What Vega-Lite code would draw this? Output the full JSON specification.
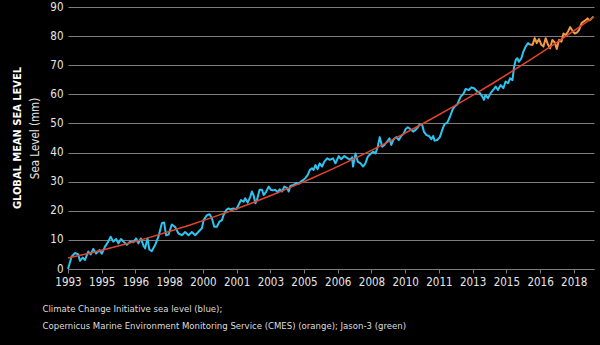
{
  "$schema": "https://vega.github.io/schema/vega-lite/v6.json",
  "width": 526,
  "height": 262,
  "autosize": "none",
  "padding": {"left": 68, "top": 7, "right": 6, "bottom": 76},
  "background": "black",
  "title": {
    "text": "GLOBAL MEAN SEA LEVEL",
    "orient": "left",
    "anchor": "middle",
    "font": "DejaVu Sans Condensed, sans-serif",
    "fontSize": 11,
    "fontWeight": "bold",
    "color": "white",
    "offset": 7
  },
  "config": {
    "view": {"stroke": null},
    "font": "DejaVu Sans Condensed, sans-serif",
    "axis": {
      "labelFont": "DejaVu Sans Condensed, sans-serif",
      "titleFont": "DejaVu Sans Condensed, sans-serif",
      "labelColor": "#e6e6e6",
      "titleColor": "#e6e6e6",
      "gridColor": "#7d7d7d",
      "gridWidth": 1.2,
      "domainColor": "#7d7d7d",
      "tickColor": "#7d7d7d"
    }
  },
  "data": {
    "values": [
      {"year": 1993.00, "value": 0.0, "series": "CCI"},
      {"year": 1993.18, "value": 4.3, "series": "CCI"},
      {"year": 1993.35, "value": 5.5, "series": "CCI"},
      {"year": 1993.51, "value": 5.0, "series": "CCI"},
      {"year": 1993.59, "value": 2.8, "series": "CCI"},
      {"year": 1993.73, "value": 3.9, "series": "CCI"},
      {"year": 1993.84, "value": 3.1, "series": "CCI"},
      {"year": 1994.00, "value": 6.0, "series": "CCI"},
      {"year": 1994.12, "value": 5.0, "series": "CCI"},
      {"year": 1994.25, "value": 6.9, "series": "CCI"},
      {"year": 1994.39, "value": 5.3, "series": "CCI"},
      {"year": 1994.55, "value": 6.5, "series": "CCI"},
      {"year": 1994.67, "value": 5.3, "series": "CCI"},
      {"year": 1994.83, "value": 7.7, "series": "CCI"},
      {"year": 1994.99, "value": 9.4, "series": "CCI"},
      {"year": 1995.11, "value": 11.1, "series": "CCI"},
      {"year": 1995.24, "value": 9.4, "series": "CCI"},
      {"year": 1995.38, "value": 10.3, "series": "CCI"},
      {"year": 1995.49, "value": 8.8, "series": "CCI"},
      {"year": 1995.62, "value": 10.3, "series": "CCI"},
      {"year": 1995.74, "value": 9.4, "series": "CCI"},
      {"year": 1995.91, "value": 8.3, "series": "CCI"},
      {"year": 1996.07, "value": 9.4, "series": "CCI"},
      {"year": 1996.23, "value": 9.2, "series": "CCI"},
      {"year": 1996.37, "value": 10.5, "series": "CCI"},
      {"year": 1996.48, "value": 8.8, "series": "CCI"},
      {"year": 1996.60, "value": 10.5, "series": "CCI"},
      {"year": 1996.73, "value": 8.0, "series": "CCI"},
      {"year": 1996.81, "value": 7.1, "series": "CCI"},
      {"year": 1996.93, "value": 10.5, "series": "CCI"},
      {"year": 1997.02, "value": 6.7, "series": "CCI"},
      {"year": 1997.14, "value": 6.1, "series": "CCI"},
      {"year": 1997.31, "value": 8.3, "series": "CCI"},
      {"year": 1997.47, "value": 11.1, "series": "CCI"},
      {"year": 1997.64, "value": 15.7, "series": "CCI"},
      {"year": 1997.75, "value": 16.0, "series": "CCI"},
      {"year": 1997.85, "value": 11.6, "series": "CCI"},
      {"year": 1997.97, "value": 11.8, "series": "CCI"},
      {"year": 1998.13, "value": 15.3, "series": "CCI"},
      {"year": 1998.30, "value": 14.4, "series": "CCI"},
      {"year": 1998.46, "value": 12.2, "series": "CCI"},
      {"year": 1998.63, "value": 11.6, "series": "CCI"},
      {"year": 1998.79, "value": 12.7, "series": "CCI"},
      {"year": 1998.96, "value": 11.6, "series": "CCI"},
      {"year": 1999.12, "value": 12.7, "series": "CCI"},
      {"year": 1999.29, "value": 11.6, "series": "CCI"},
      {"year": 1999.45, "value": 12.8, "series": "CCI"},
      {"year": 1999.62, "value": 14.0, "series": "CCI"},
      {"year": 1999.70, "value": 16.8, "series": "CCI"},
      {"year": 1999.87, "value": 18.5, "series": "CCI"},
      {"year": 2000.00, "value": 18.8, "series": "CCI"},
      {"year": 2000.11, "value": 17.4, "series": "CCI"},
      {"year": 2000.23, "value": 14.5, "series": "CCI"},
      {"year": 2000.36, "value": 14.5, "series": "CCI"},
      {"year": 2000.49, "value": 16.3, "series": "CCI"},
      {"year": 2000.61, "value": 16.8, "series": "CCI"},
      {"year": 2000.69, "value": 18.5, "series": "CCI"},
      {"year": 2000.82, "value": 20.3, "series": "CCI"},
      {"year": 2000.94, "value": 20.8, "series": "CCI"},
      {"year": 2001.05, "value": 20.5, "series": "CCI"},
      {"year": 2001.18, "value": 20.8, "series": "CCI"},
      {"year": 2001.32, "value": 20.5, "series": "CCI"},
      {"year": 2001.43, "value": 22.0, "series": "CCI"},
      {"year": 2001.55, "value": 23.7, "series": "CCI"},
      {"year": 2001.68, "value": 23.1, "series": "CCI"},
      {"year": 2001.76, "value": 24.3, "series": "CCI"},
      {"year": 2001.88, "value": 22.8, "series": "CCI"},
      {"year": 2002.01, "value": 24.8, "series": "CCI"},
      {"year": 2002.09, "value": 26.6, "series": "CCI"},
      {"year": 2002.17, "value": 25.4, "series": "CCI"},
      {"year": 2002.26, "value": 22.6, "series": "CCI"},
      {"year": 2002.34, "value": 23.7, "series": "CCI"},
      {"year": 2002.47, "value": 27.2, "series": "CCI"},
      {"year": 2002.59, "value": 27.2, "series": "CCI"},
      {"year": 2002.67, "value": 25.4, "series": "CCI"},
      {"year": 2002.80, "value": 26.6, "series": "CCI"},
      {"year": 2002.92, "value": 28.3, "series": "CCI"},
      {"year": 2003.03, "value": 27.2, "series": "CCI"},
      {"year": 2003.13, "value": 27.0, "series": "CCI"},
      {"year": 2003.25, "value": 27.2, "series": "CCI"},
      {"year": 2003.36, "value": 26.3, "series": "CCI"},
      {"year": 2003.46, "value": 27.4, "series": "CCI"},
      {"year": 2003.58, "value": 26.6, "series": "CCI"},
      {"year": 2003.69, "value": 28.3, "series": "CCI"},
      {"year": 2003.83, "value": 27.8, "series": "CCI"},
      {"year": 2003.91, "value": 26.6, "series": "CCI"},
      {"year": 2003.99, "value": 28.5, "series": "CCI"},
      {"year": 2004.15, "value": 28.9, "series": "CCI"},
      {"year": 2004.29, "value": 29.5, "series": "CCI"},
      {"year": 2004.40, "value": 29.3, "series": "CCI"},
      {"year": 2004.52, "value": 30.1, "series": "CCI"},
      {"year": 2004.65, "value": 30.7, "series": "CCI"},
      {"year": 2004.73, "value": 31.2, "series": "CCI"},
      {"year": 2004.85, "value": 32.3, "series": "CCI"},
      {"year": 2004.95, "value": 34.0, "series": "CCI"},
      {"year": 2005.06, "value": 34.6, "series": "CCI"},
      {"year": 2005.14, "value": 34.0, "series": "CCI"},
      {"year": 2005.23, "value": 35.7, "series": "CCI"},
      {"year": 2005.34, "value": 34.3, "series": "CCI"},
      {"year": 2005.44, "value": 36.3, "series": "CCI"},
      {"year": 2005.56, "value": 35.2, "series": "CCI"},
      {"year": 2005.67, "value": 36.9, "series": "CCI"},
      {"year": 2005.81, "value": 38.0, "series": "CCI"},
      {"year": 2005.94, "value": 37.5, "series": "CCI"},
      {"year": 2006.10, "value": 38.0, "series": "CCI"},
      {"year": 2006.22, "value": 36.3, "series": "CCI"},
      {"year": 2006.38, "value": 38.8, "series": "CCI"},
      {"year": 2006.50, "value": 37.7, "series": "CCI"},
      {"year": 2006.66, "value": 38.8, "series": "CCI"},
      {"year": 2006.83, "value": 38.0, "series": "CCI"},
      {"year": 2006.96, "value": 37.5, "series": "CCI"},
      {"year": 2007.04, "value": 38.4, "series": "CCI"},
      {"year": 2007.09, "value": 35.2, "series": "CCI"},
      {"year": 2007.21, "value": 39.7, "series": "CCI"},
      {"year": 2007.32, "value": 36.9, "series": "CCI"},
      {"year": 2007.46, "value": 36.3, "series": "CCI"},
      {"year": 2007.59, "value": 35.2, "series": "CCI"},
      {"year": 2007.70, "value": 36.3, "series": "CCI"},
      {"year": 2007.82, "value": 38.6, "series": "CCI"},
      {"year": 2007.95, "value": 39.5, "series": "CCI"},
      {"year": 2008.08, "value": 40.3, "series": "CCI"},
      {"year": 2008.20, "value": 39.7, "series": "CCI"},
      {"year": 2008.31, "value": 42.0, "series": "CCI"},
      {"year": 2008.41, "value": 45.3, "series": "CCI"},
      {"year": 2008.53, "value": 42.0, "series": "CCI"},
      {"year": 2008.64, "value": 42.6, "series": "CCI"},
      {"year": 2008.78, "value": 43.8, "series": "CCI"},
      {"year": 2008.89, "value": 44.9, "series": "CCI"},
      {"year": 2008.98, "value": 42.6, "series": "CCI"},
      {"year": 2009.10, "value": 44.6, "series": "CCI"},
      {"year": 2009.24, "value": 45.3, "series": "CCI"},
      {"year": 2009.35, "value": 44.3, "series": "CCI"},
      {"year": 2009.47, "value": 45.7, "series": "CCI"},
      {"year": 2009.60, "value": 46.6, "series": "CCI"},
      {"year": 2009.68, "value": 48.0, "series": "CCI"},
      {"year": 2009.80, "value": 48.7, "series": "CCI"},
      {"year": 2009.93, "value": 48.0, "series": "CCI"},
      {"year": 2010.06, "value": 47.2, "series": "CCI"},
      {"year": 2010.18, "value": 47.8, "series": "CCI"},
      {"year": 2010.29, "value": 48.7, "series": "CCI"},
      {"year": 2010.39, "value": 49.8, "series": "CCI"},
      {"year": 2010.51, "value": 49.5, "series": "CCI"},
      {"year": 2010.59, "value": 47.2, "series": "CCI"},
      {"year": 2010.72, "value": 46.0, "series": "CCI"},
      {"year": 2010.84, "value": 45.7, "series": "CCI"},
      {"year": 2010.96, "value": 44.6, "series": "CCI"},
      {"year": 2011.05, "value": 45.7, "series": "CCI"},
      {"year": 2011.12, "value": 44.1, "series": "CCI"},
      {"year": 2011.25, "value": 44.3, "series": "CCI"},
      {"year": 2011.38, "value": 45.3, "series": "CCI"},
      {"year": 2011.50, "value": 47.8, "series": "CCI"},
      {"year": 2011.61, "value": 49.8, "series": "CCI"},
      {"year": 2011.75, "value": 50.3, "series": "CCI"},
      {"year": 2011.88, "value": 52.3, "series": "CCI"},
      {"year": 2012.00, "value": 54.6, "series": "CCI"},
      {"year": 2012.11, "value": 55.8, "series": "CCI"},
      {"year": 2012.24, "value": 56.5, "series": "CCI"},
      {"year": 2012.41, "value": 59.2, "series": "CCI"},
      {"year": 2012.54, "value": 60.1, "series": "CCI"},
      {"year": 2012.65, "value": 61.8, "series": "CCI"},
      {"year": 2012.82, "value": 61.5, "series": "CCI"},
      {"year": 2012.94, "value": 62.4, "series": "CCI"},
      {"year": 2013.07, "value": 62.1, "series": "CCI"},
      {"year": 2013.23, "value": 61.0, "series": "CCI"},
      {"year": 2013.36, "value": 60.4, "series": "CCI"},
      {"year": 2013.48, "value": 59.2, "series": "CCI"},
      {"year": 2013.56, "value": 58.1, "series": "CCI"},
      {"year": 2013.64, "value": 59.8, "series": "CCI"},
      {"year": 2013.76, "value": 58.7, "series": "CCI"},
      {"year": 2013.89, "value": 60.4, "series": "CCI"},
      {"year": 2014.02, "value": 61.5, "series": "CCI"},
      {"year": 2014.14, "value": 62.7, "series": "CCI"},
      {"year": 2014.25, "value": 61.5, "series": "CCI"},
      {"year": 2014.39, "value": 63.2, "series": "CCI"},
      {"year": 2014.52, "value": 62.1, "series": "CCI"},
      {"year": 2014.63, "value": 64.4, "series": "CCI"},
      {"year": 2014.75, "value": 63.8, "series": "CCI"},
      {"year": 2014.85, "value": 65.5, "series": "CCI"},
      {"year": 2014.97, "value": 64.9, "series": "CCI"},
      {"year": 2015.05, "value": 69.5, "series": "CCI"},
      {"year": 2015.13, "value": 71.8, "series": "CCI"},
      {"year": 2015.21, "value": 72.4, "series": "CCI"},
      {"year": 2015.29, "value": 71.2, "series": "CCI"},
      {"year": 2015.41, "value": 72.4, "series": "CCI"},
      {"year": 2015.51, "value": 74.7, "series": "CCI"},
      {"year": 2015.62, "value": 76.4, "series": "CCI"},
      {"year": 2015.74, "value": 77.6, "series": "CCI"},
      {"year": 2015.84, "value": 77.0, "series": "CCI"},
      {"year": 2015.84, "value": 77.0, "series": "CMES"},
      {"year": 2015.96, "value": 77.0, "series": "CMES"},
      {"year": 2016.07, "value": 79.3, "series": "CMES"},
      {"year": 2016.17, "value": 77.6, "series": "CMES"},
      {"year": 2016.28, "value": 79.0, "series": "CMES"},
      {"year": 2016.40, "value": 77.0, "series": "CMES"},
      {"year": 2016.50, "value": 76.4, "series": "CMES"},
      {"year": 2016.61, "value": 79.3, "series": "CMES"},
      {"year": 2016.73, "value": 77.0, "series": "CMES"},
      {"year": 2016.83, "value": 75.8, "series": "CMES"},
      {"year": 2016.94, "value": 78.7, "series": "CMES"},
      {"year": 2017.06, "value": 77.8, "series": "CMES"},
      {"year": 2017.16, "value": 75.6, "series": "CMES"},
      {"year": 2017.27, "value": 78.7, "series": "CMES"},
      {"year": 2017.39, "value": 78.1, "series": "CMES"},
      {"year": 2017.49, "value": 80.9, "series": "CMES"},
      {"year": 2017.60, "value": 80.4, "series": "CMES"},
      {"year": 2017.72, "value": 81.6, "series": "CMES"},
      {"year": 2017.82, "value": 83.1, "series": "CMES"},
      {"year": 2017.93, "value": 81.9, "series": "CMES"},
      {"year": 2018.05, "value": 80.9, "series": "CMES"},
      {"year": 2018.15, "value": 81.2, "series": "CMES"},
      {"year": 2018.26, "value": 82.1, "series": "CMES"},
      {"year": 2018.38, "value": 84.4, "series": "CMES"},
      {"year": 2018.48, "value": 85.0, "series": "CMES"},
      {"year": 2018.59, "value": 85.5, "series": "CMES"},
      {"year": 2018.68, "value": 86.1, "series": "CMES"},
      {"year": 2018.76, "value": 85.3, "series": "CMES"},
      {"year": 2018.76, "value": 85.3, "series": "Jason-3"},
      {"year": 2018.87, "value": 86.0, "series": "Jason-3"},
      {"year": 2018.97, "value": 86.7, "series": "Jason-3"},
      {"year": 1993, "value": 3.8, "series": "Trend"},
      {"year": 1994, "value": 5.35, "series": "Trend"},
      {"year": 1995, "value": 7.03, "series": "Trend"},
      {"year": 1996, "value": 8.84, "series": "Trend"},
      {"year": 1997, "value": 10.78, "series": "Trend"},
      {"year": 1998, "value": 12.85, "series": "Trend"},
      {"year": 1999, "value": 15.05, "series": "Trend"},
      {"year": 2000, "value": 17.38, "series": "Trend"},
      {"year": 2001, "value": 19.85, "series": "Trend"},
      {"year": 2002, "value": 22.44, "series": "Trend"},
      {"year": 2003, "value": 25.17, "series": "Trend"},
      {"year": 2004, "value": 28.03, "series": "Trend"},
      {"year": 2005, "value": 31.02, "series": "Trend"},
      {"year": 2006, "value": 34.14, "series": "Trend"},
      {"year": 2007, "value": 37.39, "series": "Trend"},
      {"year": 2008, "value": 40.77, "series": "Trend"},
      {"year": 2009, "value": 44.28, "series": "Trend"},
      {"year": 2010, "value": 47.92, "series": "Trend"},
      {"year": 2011, "value": 51.70, "series": "Trend"},
      {"year": 2012, "value": 55.60, "series": "Trend"},
      {"year": 2013, "value": 59.64, "series": "Trend"},
      {"year": 2014, "value": 63.81, "series": "Trend"},
      {"year": 2015, "value": 68.11, "series": "Trend"},
      {"year": 2016, "value": 72.54, "series": "Trend"},
      {"year": 2017, "value": 77.10, "series": "Trend"},
      {"year": 2018, "value": 81.79, "series": "Trend"},
      {"year": 2019, "value": 86.61, "series": "Trend"}
    ]
  },
  "encoding": {
    "x": {
      "field": "year",
      "type": "quantitative",
      "scale": {"domain": [1993, 2019], "nice": false, "zero": false},
      "axis": {
        "values": [1993, 1994.6667, 1996.3333, 1998, 1999.6667, 2001.3333, 2003, 2004.6667, 2006.3333, 2008, 2009.6667, 2011.3333, 2013, 2014.6667, 2016.3333, 2018],
        "labelExpr": "format(round(datum.value), 'd')",
        "grid": false,
        "domain": true,
        "domainWidth": 1.2,
        "ticks": true,
        "tickSize": 4,
        "labelPadding": 3,
        "labelFontSize": 11.5,
        "labelFlush": false,
        "labelOverlap": false,
        "title": ["Climate Change Initiative sea level (blue);", "Copernicus Marine Environment Monitoring Service (CMES) (orange); Jason-3 (green)"],
        "titleFontSize": 9.5,
        "titleFontWeight": "normal",
        "titleAnchor": "start",
        "titleAlign": "left",
        "titleBaseline": "middle",
        "titleX": -26,
        "titleY": 39,
        "titleLineHeight": 17,
        "titleColor": "#dedede"
      }
    },
    "y": {
      "field": "value",
      "type": "quantitative",
      "scale": {"domain": [0, 90], "nice": false},
      "axis": {
        "values": [0, 10, 20, 30, 40, 50, 60, 70, 80, 90],
        "grid": true,
        "domain": false,
        "ticks": false,
        "labelPadding": 5,
        "labelFontSize": 11.5,
        "title": "Sea Level (mm)",
        "titleFontSize": 11.5,
        "titleFontWeight": "normal",
        "titlePadding": 9
      }
    },
    "color": {
      "field": "series",
      "type": "nominal",
      "scale": {"domain": ["CCI", "CMES", "Jason-3", "Trend"], "range": ["#2ec4f2", "#f59a45", "#8dc63f", "#e2442c"]},
      "legend": null
    }
  },
  "layer": [
    {
      "transform": [{"filter": "datum.series != 'Trend'"}],
      "mark": {"type": "line", "strokeWidth": 2, "strokeJoin": "round"}
    },
    {
      "transform": [{"filter": "datum.series == 'Trend'"}],
      "mark": {"type": "line", "strokeWidth": 1.5}
    }
  ]
}
